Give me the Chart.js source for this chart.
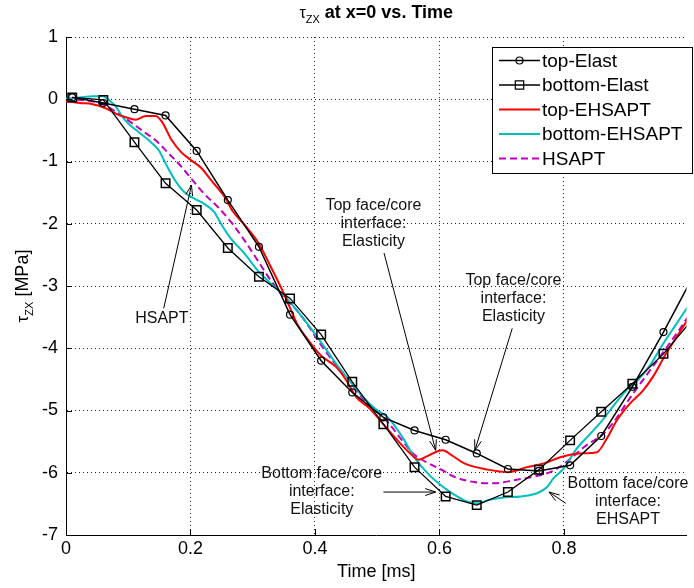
<!DOCTYPE html>
<html>
<head>
<meta charset="utf-8">
<script src="https://cdn.jsdelivr.net/npm/chart.js@4.4.1/dist/chart.umd.min.js"></script>
<style>
html, body { margin: 0; padding: 0; background: #fff; }
canvas { display: block; }
</style>
</head>
<body>
<canvas id="chart" width="694" height="588"></canvas>
<script>
// time [ms] of the marker points of the elasticity curves
const xElast = [0.01, 0.06, 0.11, 0.16, 0.21, 0.26, 0.31, 0.36, 0.41, 0.46, 0.51,
                0.56, 0.61, 0.66, 0.71, 0.76, 0.81, 0.86, 0.91, 0.96, 1.01];
const topElast = [0.03, -0.06, -0.16, -0.26, -0.83, -1.62, -2.37, -3.46, -4.2, -4.71, -5.11,
                  -5.32, -5.47, -5.69, -5.94, -5.97, -5.88, -5.41, -4.62, -3.74, -2.8];
const bottomElast = [0.03, -0.01, -0.69, -1.35, -1.78, -2.39, -2.85, -3.2, -3.78, -4.54, -5.22,
                     -5.91, -6.38, -6.52, -6.31, -5.95, -5.48, -5.02, -4.57, -4.09, -3.5];

const xTopEH = [0, 0.022, 0.043, 0.065, 0.08, 0.096, 0.112, 0.128, 0.144, 0.154, 0.17, 0.185,
                0.201, 0.217, 0.233, 0.255, 0.268, 0.287, 0.308, 0.329, 0.35, 0.371, 0.39, 0.41,
                0.434, 0.45, 0.466, 0.488, 0.509, 0.53, 0.551, 0.567, 0.583, 0.605, 0.62, 0.64,
                0.678, 0.71, 0.741, 0.768, 0.794, 0.826, 0.853, 0.869, 0.885, 0.906, 0.927, 0.943,
                0.964, 0.985, 1.0];
const topEH = [-0.03, -0.06, -0.08, -0.15, -0.23, -0.29, -0.33, -0.27, -0.27, -0.36, -0.66, -0.85,
               -0.98, -1.1, -1.3, -1.57, -1.8, -2.02, -2.29, -2.69, -3.12, -3.6, -3.88, -4.12,
               -4.3, -4.51, -4.78, -4.97, -5.21, -5.45, -5.67, -5.79, -5.72, -5.64, -5.72, -5.85,
               -5.95, -5.99, -5.91, -5.85, -5.75, -5.69, -5.67, -5.45, -5.16, -4.89, -4.68, -4.46,
               -4.09, -3.76, -3.52];

const xBotEH = [0, 0.022, 0.043, 0.059, 0.07, 0.08, 0.09, 0.1, 0.117, 0.133, 0.149, 0.16, 0.175,
                0.19, 0.207, 0.222, 0.238, 0.249, 0.265, 0.287, 0.308, 0.329, 0.35, 0.371, 0.392,
                0.413, 0.434, 0.455, 0.477, 0.498, 0.519, 0.54, 0.561, 0.583, 0.605, 0.625, 0.646,
                0.662, 0.678, 0.7, 0.731, 0.757, 0.773, 0.783, 0.8, 0.82, 0.84, 0.86, 0.88, 0.9,
                0.92, 0.94, 0.96, 0.98, 1.0];
const bottomEH = [0.01, 0.03, 0.05, 0.05, -0.02, -0.12, -0.27, -0.39, -0.53, -0.66, -0.82, -1.03, -1.3,
                  -1.49, -1.6, -1.68, -1.81, -2.0, -2.24, -2.48, -2.75, -2.96, -3.15, -3.39, -3.66,
                  -3.95, -4.25, -4.51, -4.78, -4.98, -5.13, -5.42, -5.77, -6.03, -6.22, -6.36, -6.47,
                  -6.49, -6.44, -6.4, -6.38, -6.33, -6.23, -6.09, -5.93, -5.62, -5.4, -5.18, -4.92, -4.68,
                  -4.5, -4.25, -3.92, -3.62, -3.32];

const xHsapt = [0, 0.033, 0.059, 0.08, 0.1, 0.122, 0.144, 0.165, 0.186, 0.201, 0.222, 0.244, 0.265,
                0.287, 0.308, 0.329, 0.35, 0.371, 0.39, 0.41, 0.434, 0.455, 0.477, 0.498, 0.519,
                0.54, 0.561, 0.583, 0.605, 0.625, 0.656, 0.688, 0.72, 0.752, 0.778, 0.8, 0.832,
                0.869, 0.911, 0.954, 0.985, 1.0];
const hsapt = [0, -0.02, -0.08, -0.2, -0.34, -0.5, -0.66, -0.87, -1.09, -1.27, -1.52, -1.73, -1.97,
               -2.27, -2.59, -2.91, -3.18, -3.39, -3.65, -3.95, -4.27, -4.51, -4.81, -5.0, -5.21,
               -5.48, -5.72, -5.85, -5.96, -6.07, -6.15, -6.17, -6.12, -6.06, -5.99, -5.86, -5.59,
               -5.32, -4.73, -4.14, -3.71, -3.48];

// text notes with arrows, in data units: text centre, arrow tail, arrow tip
const notes = [
  { lines: ['HSAPT'], at: [0.154, -3.53], from: [0.157, -3.36], to: [0.2016, -1.38] },
  { lines: ['Top face/core', 'interface:', 'Elasticity'], at: [0.494, -1.99], from: [0.511, -2.47], to: [0.594, -5.64] },
  { lines: ['Top face/core', 'interface:', 'Elasticity'], at: [0.719, -3.21], from: [0.717, -3.68], to: [0.657, -5.64] },
  { lines: ['Bottom face/core', 'interface:', 'Elasticity'], at: [0.411, -6.31], from: [0.51, -6.31], to: [0.594, -6.31] },
  { lines: ['Bottom face/core', 'interface:', 'EHSAPT'], at: [0.903, -6.47], from: [0.803, -6.49], to: [0.776, -6.31] }
];

const FONT = '"Liberation Sans", Arial, sans-serif';
Chart.defaults.font.family = FONT;
Chart.defaults.color = '#000';

function pts(xs, ys) {
  return xs.map((x, i) => ({ x: x, y: ys[i] }));
}

// draw a run of text pieces (with sub scripts) centred on cx
function richText(ctx, parts, cx, cy) {
  let w = 0;
  parts.forEach(p => { ctx.font = p.f; w += ctx.measureText(p.t).width; });
  let x = cx - w / 2;
  ctx.textAlign = 'left';
  ctx.textBaseline = 'alphabetic';
  parts.forEach(p => {
    ctx.font = p.f;
    ctx.fillText(p.t, x, cy + (p.dy || 0));
    x += ctx.measureText(p.t).width;
  });
}

function arrow(ctx, x1, y1, x2, y2) {
  const a = Math.atan2(y2 - y1, x2 - x1);
  const len = 11, spread = 0.32;
  ctx.beginPath();
  ctx.moveTo(x1, y1);
  ctx.lineTo(x2, y2);
  ctx.moveTo(x2 - len * Math.cos(a - spread), y2 - len * Math.sin(a - spread));
  ctx.lineTo(x2, y2);
  ctx.lineTo(x2 - len * Math.cos(a + spread), y2 - len * Math.sin(a + spread));
  ctx.stroke();
}

function marker(ctx, style, x, y) {
  ctx.beginPath();
  if (style === 'circle') {
    ctx.arc(x, y, 3.5, 0, Math.PI * 2);
  } else if (style === 'rect') {
    ctx.rect(x - 4.2, y - 4.2, 8.4, 8.4);
  }
  ctx.stroke();
}

const extras = {
  id: 'extras',
  afterDraw(chart) {
    const ctx = chart.ctx;
    const a = chart.chartArea;
    const sx = chart.scales.x, sy = chart.scales.y;
    ctx.save();
    ctx.fillStyle = '#000';

    // small inward tick marks, matlab style
    ctx.strokeStyle = '#000';
    ctx.lineWidth = 1;
    ctx.beginPath();
    sx.ticks.forEach(t => {
      const px = Math.round(sx.getPixelForValue(t.value)) + 0.5;
      ctx.moveTo(px, a.bottom);
      ctx.lineTo(px, a.bottom - 6);
    });
    sy.ticks.forEach(t => {
      const py = Math.round(sy.getPixelForValue(t.value)) + 0.5;
      ctx.moveTo(a.left, py);
      ctx.lineTo(a.left + 6, py);
    });
    ctx.stroke();

    // title
    richText(ctx, [
      { t: 'τ', f: '16px ' + FONT },
      { t: 'ZX', f: '11px ' + FONT, dy: 5 },
      { t: ' at x=0 vs. Time', f: 'bold 18px ' + FONT }
    ], (a.left + a.right) / 2, 18);

    // x axis title
    ctx.font = '18px ' + FONT;
    ctx.textAlign = 'center';
    ctx.textBaseline = 'alphabetic';
    ctx.fillText('Time [ms]', (a.left + a.right) / 2, 577);

    // y axis title
    ctx.save();
    ctx.translate(28, (a.top + a.bottom) / 2);
    ctx.rotate(-Math.PI / 2);
    richText(ctx, [
      { t: 'τ', f: '17px ' + FONT },
      { t: 'ZX', f: '11px ' + FONT, dy: 5 },
      { t: ' [MPa]', f: '18px ' + FONT }
    ], 0, 0);
    ctx.restore();

    // notes
    ctx.strokeStyle = '#000';
    ctx.lineWidth = 1;
    ctx.fillStyle = '#111';
    ctx.font = '16px ' + FONT;
    ctx.textAlign = 'center';
    ctx.textBaseline = 'middle';
    notes.forEach(n => {
      const cx = sx.getPixelForValue(n.at[0]);
      const cy = sy.getPixelForValue(n.at[1]);
      const off = (n.lines.length - 1) / 2;
      n.lines.forEach((l, i) => ctx.fillText(l, cx, cy + (i - off) * 18));
      arrow(ctx, sx.getPixelForValue(n.from[0]), sy.getPixelForValue(n.from[1]),
                 sx.getPixelForValue(n.to[0]), sy.getPixelForValue(n.to[1]));
    });

    // legend
    const bx = 492, by = 47, bw = 200, bh = 126;
    ctx.fillStyle = '#fff';
    ctx.fillRect(bx, by, bw, bh);
    ctx.strokeStyle = '#000';
    ctx.lineWidth = 1;
    ctx.strokeRect(bx + 0.5, by + 0.5, bw, bh);
    ctx.font = '19px ' + FONT;
    ctx.textAlign = 'left';
    ctx.textBaseline = 'middle';
    chart.data.datasets.forEach((ds, i) => {
      const ry = by + 13.5 + i * 24.5;
      ctx.save();
      ctx.strokeStyle = ds.borderColor;
      ctx.lineWidth = ds.borderWidth;
      ctx.setLineDash(ds.borderDash || []);
      ctx.beginPath();
      ctx.moveTo(499, ry);
      ctx.lineTo(540, ry);
      ctx.stroke();
      ctx.setLineDash([]);
      ctx.lineWidth = 1.2;
      if (ds.pointRadius) marker(ctx, ds.pointStyle, 519.5, ry);
      ctx.restore();
      ctx.fillStyle = '#000';
      ctx.fillText(ds.label, 542, ry + 1);
    });
    ctx.restore();
  }
};

const data = {
  datasets: [
    {
      label: 'top-Elast',
      data: pts(xElast, topElast),
      borderColor: '#000',
      borderWidth: 1.5,
      pointStyle: 'circle',
      pointRadius: 3.5,
      pointBorderWidth: 1.2,
      pointBackgroundColor: 'rgba(0,0,0,0)',
      pointBorderColor: '#000'
    },
    {
      label: 'bottom-Elast',
      data: pts(xElast, bottomElast),
      borderColor: '#000',
      borderWidth: 1.3,
      pointStyle: 'rect',
      pointRadius: 6,
      pointBorderWidth: 1.5,
      pointBackgroundColor: 'rgba(0,0,0,0)',
      pointBorderColor: '#000'
    },
    {
      label: 'top-EHSAPT',
      data: pts(xTopEH, topEH),
      borderColor: '#ff0000',
      borderWidth: 2,
      pointRadius: 0,
      cubicInterpolationMode: 'monotone'
    },
    {
      label: 'bottom-EHSAPT',
      data: pts(xBotEH, bottomEH),
      borderColor: '#00bfbf',
      borderWidth: 2,
      pointRadius: 0,
      cubicInterpolationMode: 'monotone'
    },
    {
      label: 'HSAPT',
      data: pts(xHsapt, hsapt),
      borderColor: '#bf00bf',
      borderWidth: 2,
      borderDash: [7, 4],
      pointRadius: 0,
      cubicInterpolationMode: 'monotone'
    }
  ]
};

const config = {
  type: 'scatter',
  data: data,
  options: {
    responsive: false,
    animation: false,
    showLine: true,
    layout: { padding: { top: 37, right: 0, left: 0, bottom: 0 } },
    plugins: {
      legend: { display: false },
      tooltip: { enabled: false }
    },
    scales: {
      x: {
        type: 'linear',
        min: 0,
        max: 0.997,
        afterFit: s => { s.height = 53; },
        ticks: {
          stepSize: 0.2,
          includeBounds: false,
          font: { size: 18 },
          color: '#000',
          padding: 3,
          maxRotation: 0,
          callback: v => String(+v.toFixed(1))
        },
        grid: { color: '#222', lineWidth: 1, drawTicks: false },
        border: { display: true, color: '#000', width: 1, dash: [1, 3] }
      },
      y: {
        type: 'linear',
        min: -7,
        max: 1,
        afterFit: s => { s.width = 66; },
        ticks: {
          stepSize: 1,
          font: { size: 18 },
          color: '#000',
          padding: 8,
          callback: v => String(v)
        },
        grid: { color: '#222', lineWidth: 1, drawTicks: false },
        border: { display: true, color: '#000', width: 1, dash: [1, 3] }
      }
    }
  },
  plugins: [extras]
};

const myChart = new Chart(document.getElementById('chart'), config);
</script>
</body>
</html>
